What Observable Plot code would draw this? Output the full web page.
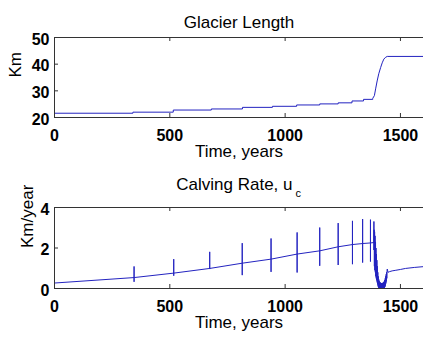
<!DOCTYPE html>
<html><head><meta charset="utf-8">
<script src="https://cdn.jsdelivr.net/npm/d3@7"></script>
<script src="https://cdn.jsdelivr.net/npm/@observablehq/plot@0.6"></script>
<style>
body{margin:0;background:#fff;}
#wrap{position:relative;width:423px;height:338px;overflow:hidden;background:#fff;}
#wrap svg{position:absolute;left:0;}
</style></head><body><div id="wrap"></div>
<script>
// ---- data ----
const xTicks = [0, 500, 1000, 1500];
const lengthTicks = [20, 30, 40, 50];
const rateTicks = [0, 2, 4];

// Glacier length (km) - step-like advance then rapid jump
const lengthYears = [0, 340, 340, 515, 515, 680, 680, 815, 815, 945, 945, 1050, 1050, 1150, 1150, 1230, 1230, 1290, 1290, 1340, 1340, 1380, 1380, 1387, 1393, 1399, 1406, 1414, 1421, 1428, 1436, 1443, 1600];
const lengthKm    = [21.6, 21.6, 22.0, 22.0, 22.8, 22.8, 23.2, 23.2, 23.8, 23.8, 24.2, 24.2, 24.7, 24.7, 25.1, 25.1, 25.5, 25.5, 26.2, 26.2, 26.8, 26.8, 27.2, 28.2, 31.0, 33.7, 36.4, 38.7, 40.5, 41.9, 42.6, 42.9, 42.9];

// Calving rate (km/year): smooth base with spikes
const baseYears = [0, 345, 517, 673, 814, 939, 1052, 1150, 1230, 1292, 1336, 1370, 1385];
const baseRates = [0.27, 0.54, 0.76, 0.99, 1.25, 1.45, 1.70, 1.86, 2.06, 2.17, 2.22, 2.25, 2.27];
const spikeYears   = [345, 517, 673, 814, 939, 1052, 1150, 1230, 1292, 1336, 1370, 1385];
const spikeTops    = [1.09, 1.45, 1.81, 2.24, 2.47, 2.77, 3.01, 3.23, 3.34, 3.43, 3.40, 3.31];
const spikeBottoms = [0.33, 0.63, 0.96, 0.66, 0.82, 0.79, 1.12, 1.16, 1.20, 1.28, 1.33, 1.90];
// collapse: dense oscillation then dip and recovery
const denseYears = [1386, 1387, 1388, 1389, 1390, 1391, 1392, 1393, 1394, 1395, 1396, 1397, 1398, 1399, 1400, 1401, 1402, 1403, 1404, 1405, 1406, 1407, 1408, 1409, 1410, 1411, 1412, 1413, 1414, 1415, 1416, 1417, 1418, 1419, 1420, 1421, 1422, 1423, 1424, 1425, 1426, 1427, 1428, 1429, 1430, 1431, 1432, 1433, 1434, 1435, 1436, 1437, 1438, 1439, 1440, 1441, 1442, 1443];
const denseRates = [2.9, 1.1, 2.8, 0.9, 2.6, 0.8, 2.3, 0.6, 2.0, 0.5, 1.7, 0.4, 1.4, 0.3, 1.1, 0.2, 0.8, 0.1, 0.6, 0.05, 0.45, 0.0, 0.38, 0.0, 0.32, 0.0, 0.3, 0.0, 0.28, 0.0, 0.27, 0.0, 0.26, 0.0, 0.26, 0.0, 0.27, 0.0, 0.28, 0.0, 0.3, 0.0, 0.32, 0.02, 0.36, 0.04, 0.42, 0.08, 0.5, 0.15, 0.6, 0.25, 0.7, 0.35, 0.8, 0.5, 0.9, 0.96];
const tailYears = [1446, 1452, 1464, 1480, 1500, 1522, 1560, 1600];
const tailRates = [0.80, 0.83, 0.87, 0.90, 0.94, 0.99, 1.04, 1.08];

// ---- build tables ----
const lengthData = lengthYears.map((t, i) => ({t, v: lengthKm[i]}));
const rateData = [];
baseYears.forEach((t, i) => {
  rateData.push({t, v: baseRates[i]});
  const k = spikeYears.indexOf(t);
  if (k >= 0) {
    rateData.push({t, v: spikeTops[k]});
    rateData.push({t, v: spikeBottoms[k]});
    if (i < baseYears.length - 1) rateData.push({t, v: baseRates[i]});
  }
});
denseYears.forEach((t, i) => rateData.push({t, v: denseRates[i]}));
tailYears.forEach((t, i) => rateData.push({t, v: tailRates[i]}));

// ---- styling ----
const W = 423, ML = 54, MR = 0;
const font = "'Liberation Sans', Arial, Helvetica, sans-serif";
const lineColor = "#2323c0";
const frameColor = "#333";

function panel({data, yDomain, yTicks, height, mt, mb, ylabel, ylabelDx, extra}) {
  const ph = height - mt - mb, pw = W - ML - MR;
  const inner = xTicks.filter(t => t > 0 && t < 1600);
  const innerY = yTicks.slice(1, -1);
  return Plot.plot({
    width: W, height, marginLeft: ML, marginRight: MR, marginTop: mt, marginBottom: mb,
    style: {fontFamily: font, fontSize: "16px", color: "#000", background: "transparent", overflow: "visible"},
    x: {domain: [0, 1600], ticks: xTicks, tickFormat: d => String(d)},
    y: {domain: yDomain, ticks: yTicks, tickFormat: d => String(d)},
    marks: [
      Plot.axisX({ticks: xTicks, tickSize: 0, tickPadding: 12, fontSize: 16, fontWeight: "bold", label: null, tickFormat: d => String(d)}),
      Plot.axisY({ticks: yTicks, tickSize: 0, tickPadding: 5, fontSize: 16, fontWeight: "bold", label: null, dy: 2, tickFormat: d => String(d)}),
      Plot.tickX(inner, {x: d => d, insetTop: ph - 4, stroke: frameColor}),
      Plot.tickX(inner, {x: d => d, insetBottom: ph - 4, stroke: frameColor}),
      Plot.tickY(innerY, {y: d => d, insetRight: pw - 4, stroke: frameColor}),
      Plot.line(data, {x: "t", y: "v", stroke: lineColor, strokeWidth: 1, clip: true}),
      Plot.frame({stroke: frameColor, strokeWidth: 1}),
      Plot.text(["Time, years"], {text: d => d, frameAnchor: "bottom", dy: 39, fontSize: 17}),
      Plot.text([ylabel], {text: d => d, frameAnchor: "left", dx: -ylabelDx, rotate: -90, fontSize: 17}),
      ...extra
    ]
  });
}

const top1 = panel({
  data: lengthData, yDomain: [20, 50], yTicks: lengthTicks, height: 165, mt: 37, mb: 48,
  ylabel: "Km", ylabelDx: 39,
  extra: [Plot.text(["Glacier Length"], {text: d => d, frameAnchor: "top", dy: -22, fontSize: 17})]
});
top1.style.top = "0px";

const bot = panel({
  data: rateData, yDomain: [0, 4], yTicks: rateTicks, height: 173, mt: 42, mb: 50,
  ylabel: "Km/year", ylabelDx: 27,
  extra: [
    Plot.text(["Calving Rate, u"], {text: d => d, frameAnchor: "top", textAnchor: "end", dx: 53.5, dy: -30, fontSize: 17}),
    Plot.text(["c"], {text: d => d, frameAnchor: "top", textAnchor: "start", dx: 56.5, dy: -18, fontSize: 11})
  ]
});
bot.style.top = "165px";

const wrap = document.getElementById("wrap");
wrap.appendChild(top1);
wrap.appendChild(bot);
</script>
</body></html>
